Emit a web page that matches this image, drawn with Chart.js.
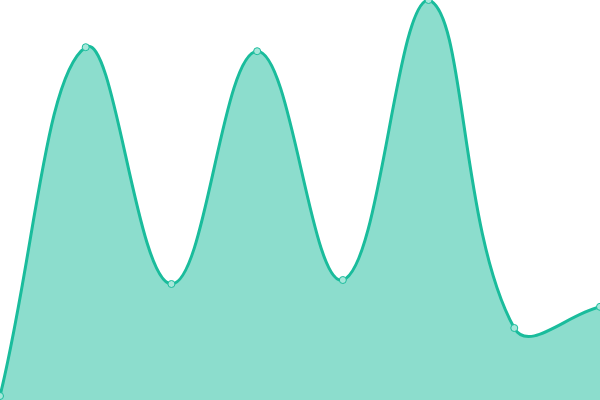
<!DOCTYPE html>
<html>
<head>
<meta charset="utf-8">
<script src="https://cdn.jsdelivr.net/npm/chart.js@4/dist/chart.umd.min.js"></script>
<style>
  html, body { margin: 0; padding: 0; background: #ffffff; }
  #chart { display: block; }
</style>
</head>
<body>
<canvas id="chart" width="600" height="400"></canvas>
<script>
// data (y scale 0..100)
const labels = ['1', '2', '3', '4', '5', '6', '7', '8'];
const values = [1, 88.2, 29, 87.2, 30, 100, 18, 23.3];

const ctx = document.getElementById('chart').getContext('2d');

new Chart(ctx, {
    type: 'line',
    data: {
        labels: labels,
        datasets: [{
            data: values,
            borderColor: '#1abc9c',
            backgroundColor: 'rgba(26, 188, 156, 0.5)',
            borderWidth: 3,
            fill: true,
            tension: 0.4,
            pointRadius: 3.5,
            pointBorderWidth: 1,
            pointBackgroundColor: '#a6e7da',
            pointBorderColor: '#1abc9c'
        }]
    },
    options: {
        responsive: false,
        animation: false,
        layout: { padding: 0, autoPadding: false },
        plugins: {
            legend: { display: false },
            tooltip: { enabled: false }
        },
        scales: {
            x: { display: false },
            y: { display: false, min: 0, max: 100 }
        }
    }
});
</script>
</body>
</html>
